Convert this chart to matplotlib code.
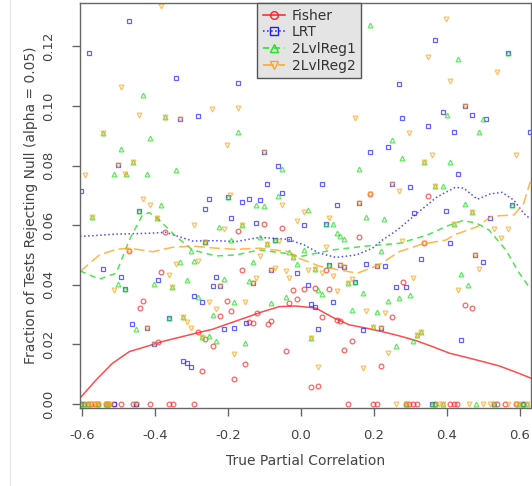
import numpy as np
import matplotlib.pyplot as plt
from matplotlib.lines import Line2D

# Puntos: Fisher
fisher_x = [-0.372, -0.101, -0.172, -0.051, 0.159, 0.188, 0.348, 0.338, -0.472, -0.382,
            -0.162, -0.022, 0.008, -0.012, -0.032, -0.432, -0.442, -0.202, -0.191, -0.222,
            -0.120, -0.142, -0.131, -0.082, -0.091, -0.282, -0.262, -0.242, -0.392, -0.041,
            -0.152, -0.272, -0.183, 0.069, 0.448, 0.468, 0.038, 0.078, 0.279, 0.248,
            0.058, 0.099, 0.108, 0.139, 0.119, 0.218, 0.028, 0.048,
            -0.601, -0.593, -0.584, -0.575, -0.564, -0.557, -0.534, -0.527, -0.511, -0.492,
            -0.461, -0.452, -0.412, -0.362, -0.351, -0.292,
            0.129, 0.198, 0.208, 0.287, 0.296, 0.308, 0.318, 0.368, 0.408, 0.418,
            0.428, 0.538, 0.558, 0.589, 0.608]
fisher_y = [0.0577, 0.0603, 0.0580, 0.0591, 0.0562, 0.0705, 0.0698, 0.0539, 0.0514, 0.0444,
            0.0451, 0.0381, 0.0386, 0.0352, 0.0340, 0.0345, 0.0323, 0.0347, 0.0313, 0.0297,
            0.0304, 0.0275, 0.0271, 0.0280, 0.0268, 0.0241, 0.0218, 0.0196, 0.0208, 0.0179,
            0.0136, 0.0112, 0.0085, 0.0451, 0.0333, 0.0322, 0.0391, 0.0387, 0.0411, 0.0292,
            0.0292, 0.0283, 0.0280, 0.0210, 0.0183, 0.0127, 0.0056, 0.0062,
            0, 0, 0, 0, 0, 0, 0, 0, 0, 0,
            0, 0, 0, 0, 0, 0,
            0, 0, 0, 0, 0, 0, 0, 0, 0, 0,
            0, 0, 0, 0, 0]

# LRT
lrt_x = [-0.472, -0.581, -0.342, -0.172, -0.332, -0.282, -0.102, -0.502, -0.062, -0.092,
         -0.601, -0.052, -0.201, -0.252, -0.142, -0.162, -0.112, -0.263, -0.443, -0.192,
         0.368, 0.567, 0.268, 0.448, 0.388, 0.468, 0.508, 0.278, 0.348, 0.418,
         0.627, 0.238, 0.188, 0.429, 0.058, 0.248, 0.298, 0.158, 0.099, 0.578,
         0.309, 0.398, 0.518,
         -0.122, 0.008, 0.068, -0.071, -0.032, 0.409,
         -0.262, -0.542, -0.492, -0.392, -0.482, -0.232, -0.242, -0.222, -0.131, -0.082,
         -0.012, -0.292, -0.271, -0.362, -0.462, -0.422, -0.151, -0.182, -0.212, -0.402,
         -0.322, -0.312, -0.301,
         0.478, 0.498, 0.078, 0.108, 0.118, 0.179, 0.209, 0.229, 0.328, 0.018,
         0.149, 0.259, 0.288, 0.088, 0.028, 0.038, 0.048, 0.169, 0.218, 0.439,
         -0.511, -0.452, 0.358, 0.528, 0.608]
lrt_y = [0.1284, 0.1179, 0.1095, 0.1076, 0.0955, 0.0966, 0.0844, 0.0801, 0.0797, 0.0739,
         0.0716, 0.0709, 0.0695, 0.0689, 0.0689, 0.0677, 0.0683, 0.0653, 0.0647, 0.0625,
         0.1222, 0.1179, 0.1073, 0.1000, 0.0978, 0.0969, 0.0955, 0.0960, 0.0931, 0.0911,
         0.0911, 0.0863, 0.0846, 0.0771, 0.0737, 0.0737, 0.0729, 0.0675, 0.0668, 0.0668,
         0.0640, 0.0647, 0.0624,
         0.0606, 0.0602, 0.0603, 0.0550, 0.0554, 0.0541,
         0.0545, 0.0454, 0.0425, 0.0416, 0.0385, 0.0425, 0.0396, 0.0395, 0.0407, 0.0450,
         0.0440, 0.0362, 0.0342, 0.0290, 0.0270, 0.0256, 0.0273, 0.0256, 0.0251, 0.0200,
         0.0146, 0.0137, 0.0126,
         0.0499, 0.0477, 0.0467, 0.0467, 0.0459, 0.0469, 0.0462, 0.0462, 0.0488, 0.0401,
         0.0410, 0.0392, 0.0392, 0.0344, 0.0337, 0.0325, 0.0252, 0.0247, 0.0256, 0.0216,
         0, 0, 0, 0, 0]

# 2LvlReg1
reg1_x = [-0.432, -0.371, -0.543, -0.412, -0.172, -0.493, -0.461, -0.511, -0.478, -0.422,
          -0.342, -0.052, -0.201, -0.122, -0.102, -0.062, -0.382, -0.443, -0.572, -0.393,
          0.188, 0.567, 0.429, 0.399, 0.498, 0.488, 0.248, 0.278, 0.338, 0.408,
          0.158, 0.368, 0.388, 0.448, 0.578, 0.019, 0.468, 0.179, 0.228,
          -0.223, -0.262, -0.162, 0.068, 0.088, 0.099, 0.108, 0.119, -0.192, -0.111,
          -0.071, 0.419, -0.092,
          -0.301, -0.292, -0.331, -0.402, -0.502, -0.482, -0.352, -0.312, -0.212, -0.132,
          -0.142, -0.012, -0.022, -0.032, -0.042, -0.082, -0.282, -0.182, -0.242, -0.362,
          -0.322, -0.452, -0.271, -0.252, -0.232, -0.152,
          0.009, 0.218, 0.038, 0.078, 0.439, 0.458, 0.048, 0.058, 0.129, 0.149,
          0.169, 0.268, 0.298, 0.238, 0.139, 0.208, 0.028, 0.198, 0.328, 0.318,
          0.308, 0.259,
          -0.601, -0.593, -0.584, -0.557, -0.534, -0.527,
          0.287, 0.358, 0.368, 0.388, 0.479, 0.528, 0.598, 0.608, 0.619]
reg1_y = [0.1037, 0.0963, 0.0910, 0.0892, 0.0911, 0.0854, 0.0812, 0.0772, 0.0772, 0.0772,
          0.0784, 0.0789, 0.0695, 0.0669, 0.0665, 0.0699, 0.0669, 0.0647, 0.0626, 0.0625,
          0.1271, 0.1179, 0.1157, 0.0970, 0.0955, 0.0911, 0.0884, 0.0824, 0.0812, 0.0812,
          0.0789, 0.0732, 0.0732, 0.0670, 0.0668, 0.0652, 0.0645, 0.0626, 0.0620,
          0.0595, 0.0545, 0.0602, 0.0603, 0.0605, 0.0573, 0.0563, 0.0553, 0.0550, 0.0560,
          0.0550, 0.0605, 0.0536,
          0.0515, 0.0481, 0.0476, 0.0402, 0.0402, 0.0385, 0.0392, 0.0416, 0.0421, 0.0476,
          0.0414, 0.0470, 0.0494, 0.0511, 0.0359, 0.0338, 0.0360, 0.0344, 0.0298, 0.0290,
          0.0293, 0.0251, 0.0226, 0.0230, 0.0213, 0.0206,
          0.0517, 0.0515, 0.0454, 0.0467, 0.0436, 0.0401, 0.0382, 0.0368, 0.0407, 0.0410,
          0.0372, 0.0357, 0.0365, 0.0345, 0.0317, 0.0308, 0.0223, 0.0259, 0.0243, 0.0231,
          0.0213, 0.0195,
          0, 0, 0, 0, 0, 0,
          0, 0, 0, 0, 0, 0, 0, 0, 0]

# 2LvlReg2
reg2_x = [-0.382, -0.493, -0.243, -0.172, -0.443, -0.371, -0.332, -0.543, -0.202, -0.102,
          -0.502, -0.461, -0.591, -0.483, -0.194, -0.432, -0.052, -0.412, -0.572, -0.393,
          0.398, 0.348, 0.538, 0.408, 0.448, 0.148, 0.297, 0.358, 0.589, 0.338,
          0.248, 0.368, 0.269, 0.188, 0.158, 0.008, 0.468, 0.078,
          -0.292, -0.212, -0.262, -0.012, -0.162, -0.061, 0.419, 0.528, 0.568, 0.549,
          0.278, 0.338, -0.092,
          -0.472, -0.281, -0.342, -0.362, -0.512, -0.352, -0.222, -0.112, -0.131, -0.122,
          -0.072, -0.082, -0.041, -0.032, -0.022, -0.252, -0.152, -0.232, -0.322, -0.312,
          -0.302, -0.422, -0.271, -0.402, -0.183,
          0.068, 0.478, 0.488, 0.038, 0.018, 0.058, 0.088, 0.108, 0.118, 0.209,
          0.429, 0.308, 0.099, 0.129, 0.139, 0.179, 0.229, 0.028, 0.198, 0.218,
          0.328, 0.318, 0.238, 0.169, 0.048,
          -0.584, -0.575, -0.564, -0.557, -0.534, -0.527, -0.520, -0.452,
          0.259, 0.287, 0.378, 0.388, 0.459, 0.499, 0.518, 0.528, 0.568, 0.589,
          0.598, 0.619]
reg2_y = [0.1334, 0.1064, 0.0990, 0.0992, 0.0968, 0.0963, 0.0955, 0.0910, 0.0870, 0.0844,
          0.0801, 0.0812, 0.0768, 0.0772, 0.0701, 0.0688, 0.0669, 0.0667, 0.0626, 0.0625,
          0.1291, 0.1164, 0.1113, 0.1082, 0.1000, 0.0959, 0.0908, 0.0834, 0.0834, 0.0812,
          0.0737, 0.0732, 0.0715, 0.0705, 0.0675, 0.0644, 0.0645, 0.0623,
          0.0602, 0.0587, 0.0545, 0.0615, 0.0602, 0.0548, 0.0605, 0.0587, 0.0587, 0.0556,
          0.0548, 0.0539, 0.0536,
          0.0514, 0.0481, 0.0469, 0.0433, 0.0383, 0.0392, 0.0395, 0.0497, 0.0407, 0.0422,
          0.0457, 0.0450, 0.0447, 0.0422, 0.0494, 0.0344, 0.0342, 0.0319, 0.0293, 0.0277,
          0.0255, 0.0256, 0.0226, 0.0200, 0.0169,
          0.0528, 0.0499, 0.0454, 0.0454, 0.0450, 0.0440, 0.0431, 0.0467, 0.0459, 0.0462,
          0.0382, 0.0423, 0.0379, 0.0407, 0.0419, 0.0311, 0.0306, 0.0223, 0.0259, 0.0256,
          0.0243, 0.0231, 0.0171, 0.0122, 0.0125,
          0, 0, 0, 0, 0, 0, 0, 0,
          0, 0, 0, 0, 0, 0, 0, 0, 0, 0,
          0, 0]

# Curvas suavizadas
fisher_cx = [-0.605, -0.561, -0.516, -0.470, -0.424, -0.379, -0.333, -0.287, -0.242, -0.196,
             -0.151, -0.105, -0.059, -0.014, 0.041, 0.087, 0.132, 0.178, 0.223, 0.269,
             0.315, 0.360, 0.406, 0.452, 0.497, 0.543, 0.589, 0.630]
fisher_cy = [0.0020, 0.0081, 0.0137, 0.0176, 0.0193, 0.0210, 0.0224, 0.0238, 0.0251, 0.0271,
             0.0290, 0.0310, 0.0327, 0.0329, 0.0322, 0.0291, 0.0266, 0.0255, 0.0243, 0.0229,
             0.0213, 0.0193, 0.0171, 0.0157, 0.0143, 0.0128, 0.0107, 0.0087]

lrt_cx = [-0.605, -0.506, -0.415, -0.370, -0.297, -0.233, -0.178, -0.114, -0.037, 0.008,
          0.050, 0.096, 0.151, 0.196, 0.223, 0.264, 0.318, 0.373, 0.423, 0.446,
          0.483, 0.519, 0.551, 0.583, 0.610, 0.628]
lrt_cy = [0.0562, 0.0570, 0.0573, 0.0576, 0.0547, 0.0548, 0.0545, 0.0559, 0.0553, 0.0534,
          0.0506, 0.0492, 0.0500, 0.0523, 0.0550, 0.0584, 0.0640, 0.0695, 0.0727, 0.0724,
          0.0687, 0.0705, 0.0710, 0.0684, 0.0640, 0.0621]

reg1_cx = [-0.605, -0.552, -0.506, -0.470, -0.434, -0.415, -0.388, -0.342, -0.297, -0.233,
           -0.178, -0.114, -0.032, -0.005, 0.087, 0.178, 0.269, 0.346, 0.400, 0.442,
           0.479, 0.515, 0.561, 0.598, 0.627]
reg1_cy = [0.0447, 0.0419, 0.0439, 0.0550, 0.0634, 0.0642, 0.0617, 0.0562, 0.0517, 0.0497,
           0.0500, 0.0517, 0.0504, 0.0494, 0.0517, 0.0530, 0.0539, 0.0567, 0.0597, 0.0615,
           0.0608, 0.0584, 0.0517, 0.0439, 0.0389]

reg2_cx = [-0.605, -0.552, -0.506, -0.470, -0.406, -0.351, -0.297, -0.233, -0.178, -0.114,
           -0.032, -0.005, 0.050, 0.105, 0.155, 0.214, 0.269, 0.333, 0.397, 0.419,
           0.483, 0.519, 0.546, 0.583, 0.610, 0.628]
reg2_cy = [0.0444, 0.0500, 0.0519, 0.0523, 0.0511, 0.0526, 0.0530, 0.0523, 0.0519, 0.0523,
           0.0511, 0.0489, 0.0463, 0.0450, 0.0439, 0.0467, 0.0511, 0.0537, 0.0550, 0.0567,
           0.0595, 0.0628, 0.0632, 0.0634, 0.0673, 0.0746]

rojo = '#ff2020'
azul = '#2020ff'
verde = '#20e020'
naranja = '#ffa520'

fig = plt.figure(figsize=(5.32, 4.86), dpi=100)
ax = fig.add_axes([80/532, 1 - 408/486, 451/532, 405/486])

series = [
    (fisher_x, fisher_y, fisher_cx, fisher_cy, rojo, 'o', '-', 'Fisher'),
    (lrt_x, lrt_y, lrt_cx, lrt_cy, azul, 's', ':', 'LRT'),
    (reg1_x, reg1_y, reg1_cx, reg1_cy, verde, '^', (0, (4, 3)), '2LvlReg1'),
    (reg2_x, reg2_y, reg2_cx, reg2_cy, naranja, 'v', (0, (7, 3)), '2LvlReg2'),
]

handles = []
for px, py, cx, cy, col, mk, ls, nombre in series:
    ax.plot(px, py, linestyle='none', marker=mk, markersize=3.4, markerfacecolor='none',
            markeredgecolor=col, markeredgewidth=0.9, alpha=0.7)
    ax.plot(cx, cy, color=col, linestyle=ls, linewidth=1.1, alpha=0.8)
    handles.append(Line2D([], [], color=col, linestyle=ls, linewidth=1.1, marker=mk,
                          markersize=5.5, markerfacecolor='none', markeredgecolor=col,
                          label=nombre))

ax.set_xlim(-0.605, 0.630)
ax.set_ylim(-0.0013, 0.1345)
ax.set_xticks([-0.6, -0.4, -0.2, 0.0, 0.2, 0.4, 0.6])
ax.set_xticklabels(['-0.6', '-0.4', '-0.2', '0.0', '0.2', '0.4', '0.6'])
ax.set_yticks([0.0, 0.02, 0.04, 0.06, 0.08, 0.10, 0.12])
ax.set_yticklabels(['0.00', '0.02', '0.04', '0.06', '0.08', '0.10', '0.12'],
                   rotation=90, va='center')

gris = '#444444'
for s in ax.spines.values():
    s.set_color('#666666')
    s.set_linewidth(1.0)
ax.tick_params(colors='#666666', labelcolor=gris, length=6, width=1.0, labelsize=9.5)
ax.tick_params(axis='x', pad=9)
ax.tick_params(axis='y', pad=12)
ax.set_xlabel('True Partial Correlation', fontsize=10, color=gris, labelpad=9)
ax.set_ylabel('Fraction of Tests Rejecting Null (alpha = 0.05)', fontsize=10, color=gris,
              labelpad=3)

leg = ax.legend(handles=handles, loc='upper left', bbox_to_anchor=((257 - 80) / 451, 1.0),
                borderaxespad=0, frameon=True, fancybox=False, facecolor='#e4e4e4',
                edgecolor='#555555', framealpha=1, fontsize=10, handlelength=1.6,
                handletextpad=0.5, labelspacing=0.2, borderpad=0.4)
for t in leg.get_texts():
    t.set_color('#333333')

fig.add_artist(Line2D([10/532, 10/532], [0, 1], color='#e8e8e8', linewidth=1))

fig.savefig('out.png', dpi=100)
